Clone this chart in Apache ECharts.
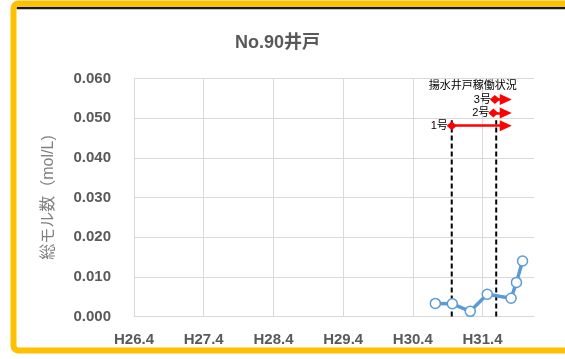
<!DOCTYPE html>
<html>
<head>
<meta charset="utf-8">
<script src="https://cdn.jsdelivr.net/npm/echarts@6/dist/echarts.min.js"></script>
<style>
  html, body { margin: 0; padding: 0; background: #fff; }
  #chart { width: 565px; height: 359px; }
</style>
</head>
<body>
<div id="chart"></div>
<script>
// Measured total molar concentration at well No.90
const sampleDates = ['2018-07-28', '2018-10-25', '2019-01-27', '2019-04-26', '2019-08-29', '2019-09-26', '2019-10-28'];
const sampleValues = [0.0033, 0.0032, 0.0013, 0.0056, 0.0046, 0.0086, 0.0140];

// Fiscal-year tick positions (April 1st) and their labels
const tickDates = ['2014-04-01', '2015-04-01', '2016-04-01', '2017-04-01', '2018-04-01', '2019-04-01'];
const tickLabels = ['H26.4', 'H27.4', 'H28.4', 'H29.4', 'H30.4', 'H31.4'];

// Pumping-well operation periods: name, start, continuing-arrow end, level
const pumpNames = ['1号', '2号', '3号'];
const pumpStarts = ['2018-10-22', '2019-05-28', '2019-06-05'];
const pumpArrowEnds = ['2019-08-01', '2019-08-01', '2019-08-01'];
const pumpLevels = [0.0481, 0.0513, 0.0547];
const pumpTitle = '揚水井戸稼働状況';
const pumpTitleAt = ['2019-02-09', 0.0582];

// Dashed guides marking operation changes
const guideDates = ['2018-10-22', '2019-06-12'];
const guideTop = 0.0495;

const axisMin = '2014-04-01';
const axisMax = '2019-12-27';

const ts = d => Date.UTC(+d.slice(0, 4), +d.slice(5, 7) - 1, +d.slice(8, 10));
const tickTs = tickDates.map(ts);

const labelFont = "'Liberation Sans', 'Noto Sans CJK JP', sans-serif";
const grey = '#595959';

const chart = echarts.init(document.getElementById('chart'), null, { renderer: 'canvas' });

const series = [];

// dashed vertical guides
guideDates.forEach((d, i) => {
  series.push({
    name: 'guide' + i,
    type: 'line',
    data: [[ts(d), 0], [ts(d), guideTop]],
    symbol: 'none',
    lineStyle: { color: '#000', width: 2, type: [5, 3] },
    silent: true,
    z: 3
  });
});

// year gridlines on April 1st
series.push({
  name: 'years',
  type: 'line',
  data: [],
  silent: true,
  markLine: {
    silent: true,
    symbol: 'none',
    label: { show: false },
    lineStyle: { color: '#d9d9d9', width: 1, type: 'solid' },
    data: tickTs.slice(1).map(t => ({ xAxis: t }))
  },
  z: 1
});

// pumping operation arrows
series.push({
  name: 'pumps',
  type: 'line',
  data: [],
  silent: true,
  markLine: {
    silent: true,
    symbol: ['diamond', 'triangle'],
    symbolSize: 11,
    lineStyle: { color: '#ff0000', width: 2.5, type: 'solid', opacity: 1 },
    itemStyle: { color: '#ff0000' },
    label: { show: false },
    data: pumpNames.map((n, i) => [
      {
        coord: [ts(pumpStarts[i]), pumpLevels[i]],
        symbol: 'diamond',
        symbolSize: [9, 10],
        label: {
          show: true, position: 'start', formatter: n, distance: 4,
          color: '#000', fontSize: 11, fontFamily: labelFont
        }
      },
      {
        coord: [ts(pumpArrowEnds[i]), pumpLevels[i]],
        symbol: 'triangle',
        symbolSize: [11, 12]
      }
    ])
  },
  markPoint: {
    silent: true,
    symbol: 'rect',
    symbolSize: 1,
    itemStyle: { color: 'rgba(0,0,0,0)' },
    label: {
      show: true, position: 'inside', formatter: pumpTitle,
      color: '#000', fontSize: 11, fontFamily: labelFont
    },
    data: [{
      coord: [ts(pumpTitleAt[0]), pumpTitleAt[1]]
    }]
  },
  z: 4
});

// concentration series
series.push({
  name: '総モル数',
  type: 'line',
  data: sampleDates.map((d, i) => [ts(d), sampleValues[i]]),
  symbol: 'circle',
  symbolSize: 10,
  showSymbol: true,
  lineStyle: { color: '#5b9bd5', width: 3.5 },
  itemStyle: { color: '#fff', borderColor: '#5b9bd5', borderWidth: 1.5 },
  z: 5
});

chart.setOption({
  animation: false,
  backgroundColor: '#fff',
  title: {
    text: 'No.90井戸',
    left: 230,
    top: 29,
    textStyle: { color: grey, fontSize: 18, fontWeight: 'bold', fontFamily: labelFont }
  },
  grid: { left: 134, right: 31, top: 78.5, bottom: 42.5, containLabel: false },
  xAxis: {
    type: 'value',
    min: ts(axisMin),
    max: ts(axisMax),
    axisLine: { show: true, lineStyle: { color: '#d9d9d9', width: 1 } },
    axisTick: { show: false },
    splitLine: { show: false },
    axisLabel: {
      customValues: tickTs,
      formatter: v => {
        const k = tickTs.indexOf(v);
        return k >= 0 ? tickLabels[k] : '';
      },
      color: grey, fontSize: 15, fontWeight: 'bold', fontFamily: labelFont,
      margin: 16, hideOverlap: false
    }
  },
  yAxis: {
    type: 'value',
    min: 0,
    max: 0.06,
    interval: 0.01,
    name: '総モル数（mol/L)',
    nameLocation: 'middle',
    nameRotate: 90,
    nameGap: 77,
    nameTextStyle: { color: '#808080', fontSize: 16, fontFamily: labelFont },
    axisLine: { show: true, lineStyle: { color: '#d9d9d9', width: 1 } },
    axisTick: { show: false },
    splitLine: { show: true, lineStyle: { color: '#d9d9d9', width: 1 } },
    axisLabel: {
      formatter: v => v.toFixed(3),
      color: grey, fontSize: 15, fontWeight: 'bold', fontFamily: labelFont,
      margin: 23
    }
  },
  graphic: [
    {
      type: 'rect',
      shape: { x: 13.5, y: 3.5, width: 565, height: 347, r: 5 },
      style: { fill: null, stroke: '#ffc000', lineWidth: 6 },
      silent: true,
      z: 100
    },
    {
      type: 'line',
      shape: { x1: 16.5, y1: 8, x2: 565, y2: 8 },
      style: { stroke: '#1a1a1a', lineWidth: 2.5 },
      silent: true,
      z: 99
    }
  ],
  series: series
});
</script>
</body>
</html>
